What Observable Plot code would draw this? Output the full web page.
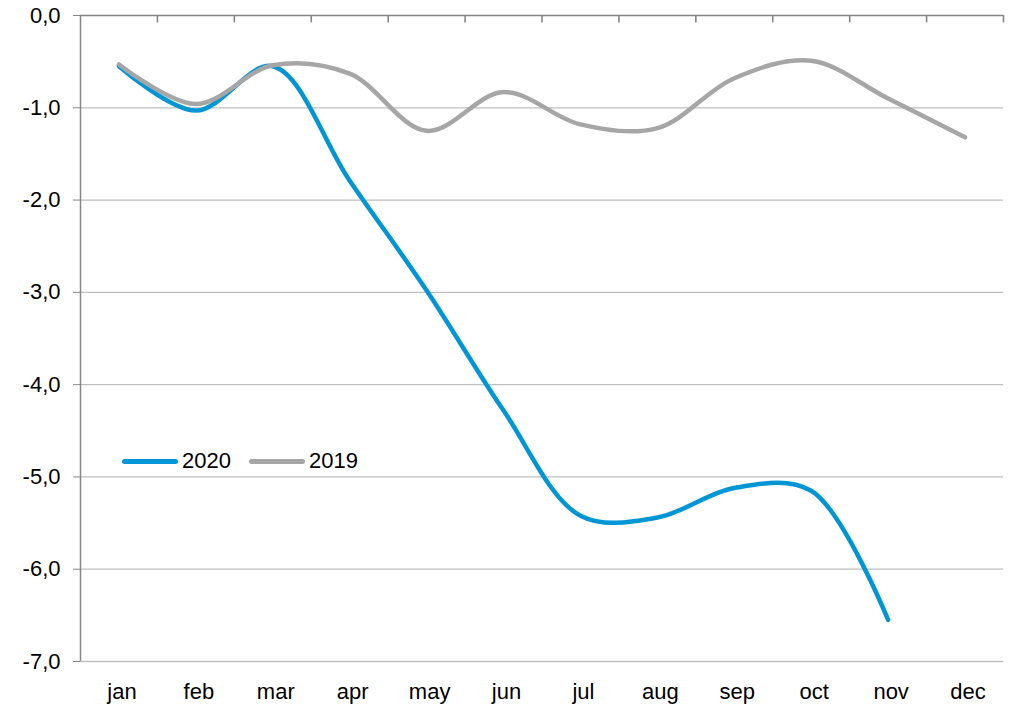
<!DOCTYPE html>
<html>
<head>
<meta charset="utf-8">
<script src="https://cdn.jsdelivr.net/npm/d3@7"></script>
<script src="https://cdn.jsdelivr.net/npm/@observablehq/plot@0.6"></script>
<style>
  body { margin: 0; background: #fff; font-family: "Liberation Sans", Arial, sans-serif; }
  #wrap { position: relative; width: 1010px; height: 706px; }
  #legend { position: absolute; left: 122px; top: 448px; display: flex; align-items: center; font-size: 22px; color: #000; }
  .sw { display: inline-block; width: 56px; height: 5px; border-radius: 3px; margin-right: 4px; }
  .item { display: flex; align-items: center; margin-right: 18px; }
</style>
</head>
<body>
<div id="wrap"><div id="legend"></div></div>
<script>
const months = ["jan","feb","mar","apr","may","jun","jul","aug","sep","oct","nov","dec"];
const series2020 = [-0.55, -1.03, -0.55, -1.79, -2.98, -4.28, -5.42, -5.44, -5.12, -5.15, -6.55];
const series2019 = [-0.53, -0.96, -0.54, -0.63, -1.25, -0.83, -1.18, -1.22, -0.68, -0.49, -0.90, -1.32];
const yTicks = [0, -1, -2, -3, -4, -5, -6, -7];
const seriesNames = ["2020", "2019"];
const colors = ["#0096D6", "#A6A6A6"];

const data = [
  ...series2020.map((v, i) => ({i, v, s: "2020"})),
  ...series2019.map((v, i) => ({i, v, s: "2019"}))
];
const boundaries = d3.range(1, months.length + 1).map(k => k - 0.5);
const fmt = v => d3.format(".1f")(v).replace("−", "-").replace(".", ",");
const topTick = 0.08; // length of the category ticks hanging from the zero line, in y units

const chart = Plot.plot({
  width: 1010,
  height: 706,
  marginLeft: 80,
  marginRight: 7,
  marginTop: 15,
  marginBottom: 45,
  style: {fontFamily: "Liberation Sans, Arial, sans-serif", fontSize: "22px", color: "#000", background: "#fff"},
  x: {type: "linear", domain: [-0.5, months.length - 0.5]},
  y: {domain: [-7, 0]},
  color: {domain: seriesNames, range: colors},
  marks: [
    Plot.ruleY(yTicks.filter(d => d !== 0), {stroke: "#BFBFBF", strokeWidth: 1.3}),
    Plot.axisY(yTicks, {tickSize: 7, tickPadding: 13, tickFormat: fmt, stroke: "#868686", fill: "#000", fontSize: 22, label: null}),
    Plot.axisX(d3.range(months.length), {anchor: "bottom", tickSize: 0, tickPadding: 22, dx: 3, tickFormat: i => months[i], fill: "#000", fontSize: 22, label: null}),
    Plot.ruleX(boundaries, {y1: 0, y2: -topTick, stroke: "#868686", strokeWidth: 1.6}),
    Plot.ruleY([0], {stroke: "#868686", strokeWidth: 1.5}),
    Plot.ruleX([-0.5], {stroke: "#868686", strokeWidth: 1.5}),
    Plot.line(data, {x: "i", y: "v", z: "s", stroke: "s", strokeWidth: 4.5, curve: "catmull-rom", strokeLinecap: "round"})
  ]
});
document.getElementById("wrap").prepend(chart);

const legend = document.getElementById("legend");
seriesNames.forEach((n, k) => {
  const it = document.createElement("div");
  it.className = "item";
  it.innerHTML = `<span class="sw" style="background:${colors[k]}"></span><span>${n}</span>`;
  legend.appendChild(it);
});
</script>
</body>
</html>
